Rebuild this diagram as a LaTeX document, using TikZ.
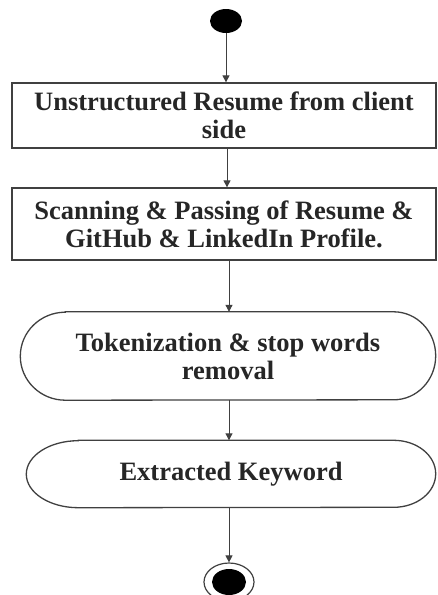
\documentclass[tikz,border=0pt]{standalone}
\usepackage{fontspec}
\setmainfont{Liberation Serif}
\usetikzlibrary{arrows.meta,shapes.geometric,calc}
\begin{document}
\begin{tikzpicture}[x=1pt,y=-1pt,
  lbl/.style={font=\fontsize{26.5}{28}\selectfont\bfseries, text=black!85, align=center, inner sep=0pt},
  stepbox/.style={lbl, draw=black!75, line width=1.3pt, rectangle},
  actbox/.style={lbl, rectangle},
  outline/.style={draw=black!75, line width=1.3pt},
  flow/.style={draw=black!75, line width=1pt, -{Triangle[length=7pt,width=7pt]}}
]
\useasboundingbox (0,0) rectangle (437,595);
\node[ellipse, fill=black, minimum width=32pt, minimum height=24pt, inner sep=0pt] (start) at (226,21) {};
\node[stepbox, minimum width=424pt, minimum height=65pt] (b1) at (224,115.5) {Unstructured Resume from client\\side};
\node[stepbox, minimum width=424pt, minimum height=72pt] (b2) at (224,224) {Scanning \& Passing of Resume \&\\GitHub \& LinkedIn Profile.};
\node[actbox, minimum width=415pt, minimum height=88pt] (t1) at (228,356) {Tokenization \& stop words\\removal};
\node[actbox, minimum width=409pt, minimum height=67pt] (t2) at (231,474) {Extracted Keyword};
% stadium outlines with elliptical ends
\draw[outline] ($(t1.north west)+(45,0)$) -- ($(t1.north east)+(-42,0)$)
  arc[start angle=-90, end angle=90, x radius=42, y radius=44]
  -- ($(t1.south west)+(45,0)$)
  arc[start angle=90, end angle=270, x radius=45, y radius=44] -- cycle;
\draw[outline] ($(t2.north west)+(52,0)$) -- ($(t2.north east)+(-42,0)$)
  arc[start angle=-90, end angle=90, x radius=42, y radius=33.5]
  -- ($(t2.south west)+(52,0)$)
  arc[start angle=90, end angle=270, x radius=52, y radius=33.5] -- cycle;
\node[ellipse, draw=black!75, line width=1.2pt, minimum width=50pt, minimum height=38pt, inner sep=0pt] (end) at (229,582) {};
\node[ellipse, fill=black, minimum width=34pt, minimum height=26pt, inner sep=0pt] (endin) at (end.center) {};
\draw[flow] (start.south) -- (start.south |- b1.north);
\draw[flow] (b1.south -| 227,0) -- (b2.north -| 227,0);
\draw[flow] (b2.south -| 229,0) -- (t1.north -| 229,0);
\draw[flow] (t1.south -| 229,0) -- (t2.north -| 229,0);
\draw[flow] (t2.south -| 229,0) -- (end.north -| 229,0);
\end{tikzpicture}
\end{document}
